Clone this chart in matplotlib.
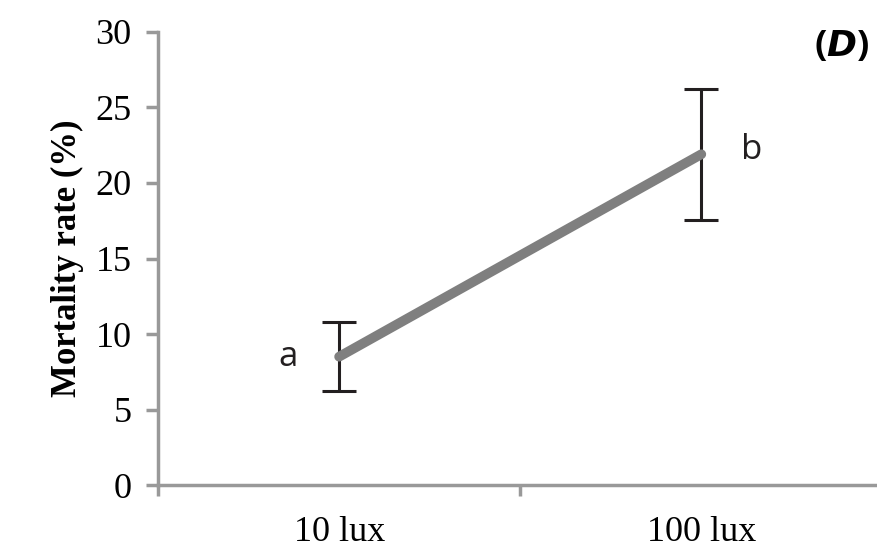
import matplotlib.pyplot as plt

# light level groups and mortality (%)
groups = ["10 lux", "100 lux"]
mortality = [8.5, 21.9]
errors = [2.3, 4.35]
letters = ["a", "b"]

fig = plt.figure(figsize=(8.78, 5.5), dpi=100)
ax = fig.add_axes([0.18, 0.118, 0.825, 0.824])

xs = list(range(len(groups)))
ax.errorbar(xs, mortality, yerr=errors, fmt="none", ecolor="#231f20",
            elinewidth=2.2, capsize=12, capthick=2.2, zorder=2)
ax.plot(xs, mortality, color="#7f7f7f", lw=7, solid_capstyle="round", zorder=3)

# significance letters
ax.text(xs[0] - 0.14, mortality[0], letters[0], ha="center", va="center",
        fontsize=25, family="Open Sans", color="#231f20")
ax.text(xs[1] + 0.14, mortality[1] + 0.3, letters[1], ha="center", va="center",
        fontsize=25, family="Open Sans", color="#231f20")

ax.set_xlim(-0.5, 1.5)
ax.set_ylim(0, 30)
ax.set_yticks(range(0, 31, 5))
ax.set_xticks([-0.5, 0.5, 1.5])
ax.set_xticklabels([])
ax.set_xticks(xs, minor=True)
ax.set_xticklabels(groups, minor=True, family="Liberation Serif", fontsize=26)
ax.tick_params(axis="x", which="minor", length=0, pad=22)
ax.tick_params(axis="x", which="major", length=8, width=2.5, color="#999999")
ax.tick_params(axis="y", length=9, width=2.5, color="#999999", pad=10,
               labelsize=26)
for lab in ax.get_yticklabels():
    lab.set_family("Liberation Serif")

for s in ["top", "right"]:
    ax.spines[s].set_visible(False)
for s in ["left", "bottom"]:
    ax.spines[s].set_color("#999999")
    ax.spines[s].set_linewidth(2.5)

ax.set_ylabel("Mortality rate (%)", family="Liberation Serif", fontweight="bold",
              fontsize=25, labelpad=8)

fig.text(0.99, 0.915, r"($\bfit{D}$)", ha="right", va="center", fontsize=26,
         family="Open Sans", fontweight="bold")

fig.savefig("out.png", dpi=100)
